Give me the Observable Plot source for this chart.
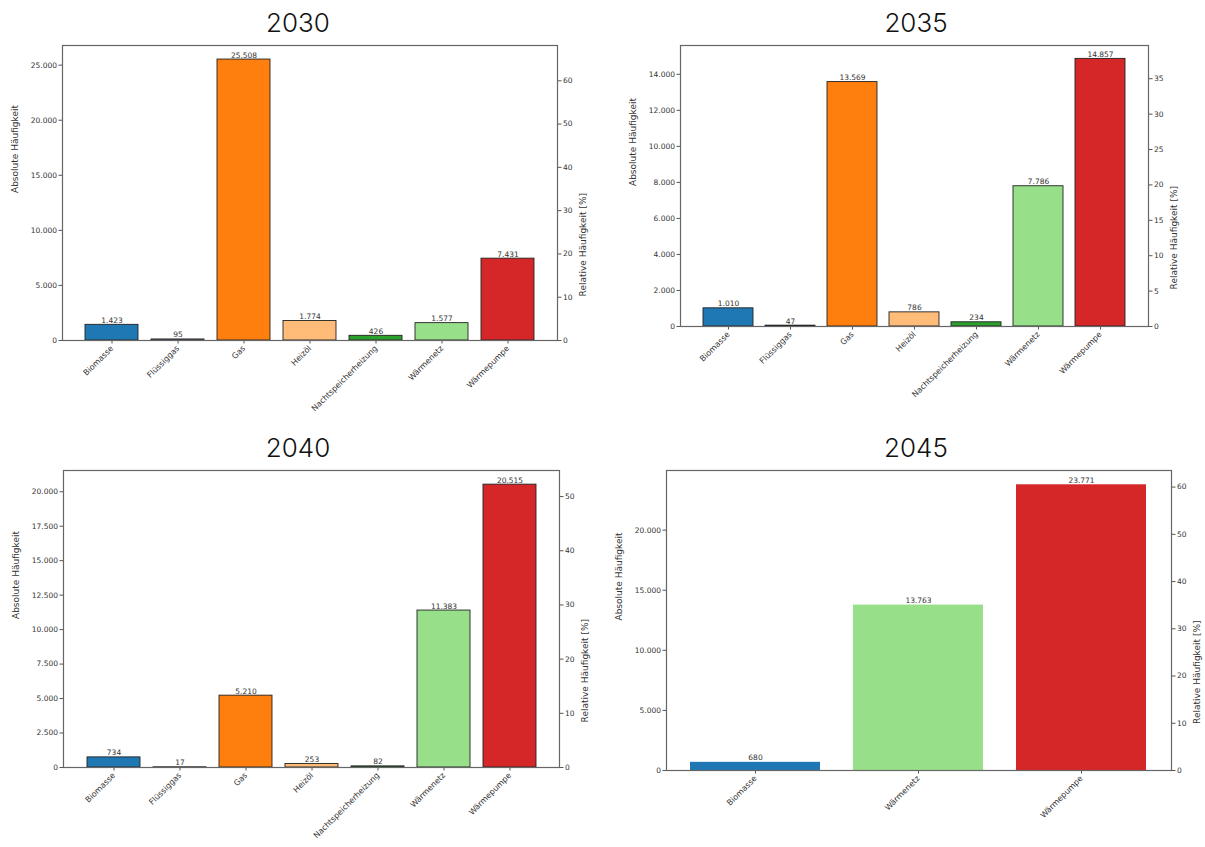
<!DOCTYPE html>
<html><head><meta charset="utf-8">
<script src="https://cdn.jsdelivr.net/npm/d3@7"></script>
<script src="https://cdn.jsdelivr.net/npm/@observablehq/plot@0.6"></script>
<style>
html,body{margin:0;padding:0;background:#fff;overflow:hidden}
#root{position:relative;width:1205px;height:847px;background:#fff}
.title{position:absolute;font-family:Inter,"Noto Sans",sans-serif;font-weight:300;font-size:26px;color:#111;transform:translateX(-50%);white-space:nowrap;line-height:1}
.panel{position:absolute}
</style></head><body><div id="root"></div>
<script>
// ---- data ----
const years = ["2030", "2035", "2040", "2045"];
const categoriesFull = ["Biomasse", "Flüssiggas", "Gas", "Heizöl", "Nachtspeicherheizung", "Wärmenetz", "Wärmepumpe"];
const categories2045 = ["Biomasse", "Wärmenetz", "Wärmepumpe"];
const categoryColors = ["#1f77b4", "#aec7e8", "#ff7f0e", "#ffbb78", "#2ca02c", "#98df8a", "#d62728"];
const values2030 = [1423, 95, 25508, 1774, 426, 1577, 7431];
const values2035 = [1010, 47, 13569, 786, 234, 7786, 14857];
const values2040 = [734, 17, 5210, 253, 82, 11383, 20515];
const values2045 = [680, 13763, 23771];
const leftTicks2030 = [0, 5000, 10000, 15000, 20000, 25000];
const leftTicks2035 = [0, 2000, 4000, 6000, 8000, 10000, 12000, 14000];
const leftTicks2040 = [0, 2500, 5000, 7500, 10000, 12500, 15000, 17500, 20000];
const leftTicks2045 = [0, 5000, 10000, 15000, 20000];
const rightTicks2030 = [0, 10, 20, 30, 40, 50, 60];
const rightTicks2035 = [0, 5, 10, 15, 20, 25, 30, 35];
const rightTicks2040 = [0, 10, 20, 30, 40, 50];
const rightTicks2045 = [0, 10, 20, 30, 40, 50, 60];
const totalBuildings = 39300; // estimated base for relative share
const yLabelLeft = "Absolute Häufigkeit";
const yLabelRight = "Relative Häufigkeit [%]";

// ---- formatting ----
const de = d3.formatLocale({decimal: ",", thousands: ".", grouping: [3], currency: ["", "€"]});
const fmt = de.format(",d");

const root = document.getElementById("root");

function panel(year, cats, vals, leftTicks, rightTicks, frame, edge, titleX, titleY) {
  const data = cats.map((c, i) => ({cat: c, value: vals[i]}));
  const maxV = d3.max(vals) * 1.05;
  const mL = 60, mR = 36, mT = 12, mB = 100;
  const w = frame.x1 - frame.x0 + mL + mR;
  const h = frame.y1 - frame.y0 + mT + mB;
  const n = cats.length;
  const svg = Plot.plot({
    width: w, height: h,
    marginLeft: mL, marginRight: mR, marginTop: mT, marginBottom: mB,
    style: {fontFamily: "DejaVu Sans, sans-serif", fontSize: "7.5px", color: "#333", background: "transparent"},
    x: {domain: cats, paddingInner: 0.2, paddingOuter: 0.05 * (n - 0.2), align: 0.5, label: null},
    y: {domain: [0, maxV], label: null},
    color: {domain: categoriesFull, range: categoryColors},
    marks: [
      Plot.barY(data, {x: "cat", y: "value", fill: "cat", stroke: edge ? "#222" : "none", strokeWidth: 0.9}),
      Plot.text(data, {x: "cat", y: "value", text: d => fmt(d.value), lineAnchor: "bottom", dy: -2, fontSize: 7.5, fill: "#333"}),
      Plot.axisY(leftTicks, {anchor: "left", tickFormat: fmt, tickSize: 3.5, tickPadding: 2, label: null, stroke: "#555"}),
      Plot.axisY(rightTicks.map(p => p * totalBuildings / 100), {anchor: "right", tickFormat: d => String(Math.round(d / totalBuildings * 100)), tickSize: 3.5, tickPadding: 2, label: null, stroke: "#555"}),
      Plot.axisX({tickRotate: -45, tickSize: 3.5, tickPadding: 3, label: null, fontSize: 8, stroke: "#555"}),
      Plot.frame({stroke: "#666", strokeWidth: 1.2}),
      Plot.text([yLabelLeft], {text: d => d, frameAnchor: "left", rotate: -90, dx: -47, fontSize: 9, fill: "#333"}),
      Plot.text([yLabelRight], {text: d => d, frameAnchor: "right", rotate: -90, dx: 26, fontSize: 9, fill: "#333"})
    ]
  });
  svg.classList.add("panel");
  svg.style.left = (frame.x0 - mL) + "px";
  svg.style.top = (frame.y0 - mT) + "px";
  root.appendChild(svg);
  const t = document.createElement("div");
  t.className = "title";
  t.textContent = year;
  t.style.left = titleX + "px";
  t.style.top = titleY + "px";
  root.appendChild(t);
}

panel(years[0], categoriesFull, values2030, leftTicks2030, rightTicks2030, {x0: 62, x1: 557, y0: 45, y1: 340}, true, 298, 10);
panel(years[1], categoriesFull, values2035, leftTicks2035, rightTicks2035, {x0: 680, x1: 1148, y0: 45, y1: 326}, true, 916, 10);
panel(years[2], categoriesFull, values2040, leftTicks2040, rightTicks2040, {x0: 63, x1: 559, y0: 470, y1: 767}, true, 298, 435);
panel(years[3], categories2045, values2045, leftTicks2045, rightTicks2045, {x0: 666, x1: 1171, y0: 470, y1: 770}, false, 916, 435);
</script></body></html>
